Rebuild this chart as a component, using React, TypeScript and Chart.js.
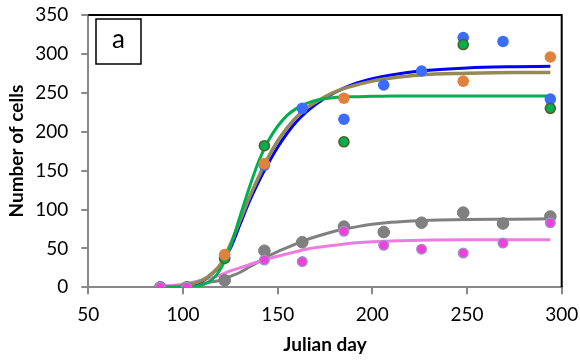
import { useEffect, useRef } from "react";
import { Chart, registerables } from "chart.js";
Chart.register(...registerables);

// Sampling days (Julian day)
const days = [88, 102, 122, 143, 163, 185, 206, 226, 248, 269, 294];
// Observed cell counts (null = not measured)
const blueObs = [0, 0, 38, 157, 230, 216, 260, 278, 321, 316, 242];
const orangeObs = [0, 0, 42, 159, null, 243, null, null, 265, null, 296];
const greenObs = [0, 0, 37, 182, null, 187, null, null, 312, null, 230];
const grayObs = [0, 0, 9, 47, 58, 78, 71, 83, 96, 82, 91];
const pinkObs = [0, 0, null, 35, 33, 72, 54, 49, 44, 57, 83];

// Fitted curves
const curveDays = [88, 100, 110, 115, 120, 125, 130, 135, 140, 145, 150, 155, 160, 165, 170, 180, 190, 200, 210, 225, 250, 275, 294];
const blueFit = [0, 1, 8, 17, 29, 50, 80, 110, 136, 159, 180, 198, 213, 225, 235, 250, 261, 268, 273, 278, 282, 283.5, 284];
const brownFit = [0, 2, 9, 17, 30, 55, 85, 115, 142, 167, 188, 205, 219, 230, 238, 251, 259, 265, 269, 273, 275, 276, 276];
const greenFit = [0, 0.5, 3, 9, 24, 52, 90, 128, 162, 188, 207, 221, 230, 236, 240, 244, 245, 245.5, 246, 246, 246, 246, 246];
const grayFit = [0, 2, 5, 7, 9, 14, 19, 26, 33, 40, 46, 51, 56, 61, 65, 72, 77, 81, 83.5, 85.5, 87, 87.5, 88];
const pinkFit = [1, 4, 9, 12, 16, 21, 25, 29, 33, 37, 40, 43, 46, 49, 51, 54, 57, 58.5, 59.5, 60.5, 61, 61, 61];

const xTicks = [50, 100, 150, 200, 250, 300];
const yTicks = [0, 50, 100, 150, 200, 250, 300, 350];
const panelLabel = "a";

const pts = (xs: number[], ys: (number | null)[]) =>
  xs.map((x, i) => ({ x, y: ys[i] })).filter((p) => p.y !== null) as { x: number; y: number }[];

const FONT = 'Lato, "Open Sans", sans-serif';

export default function App() {
  const ref = useRef<HTMLCanvasElement>(null);
  useEffect(() => {
    document.body.style.margin = "0";
    const framePlugin = {
      id: "frame",
      beforeDatasetsDraw(chart: any) {
        const { ctx, chartArea } = chart;
        const { left, right, top, bottom } = chartArea;
        ctx.save();
        ctx.strokeStyle = "#000";
        ctx.lineWidth = 2;
        ctx.beginPath();
        ctx.moveTo(left, top);
        ctx.lineTo(right, top);
        ctx.lineTo(right, bottom);
        ctx.stroke();
        // panel label box
        ctx.lineWidth = 1.5;
        ctx.fillStyle = "#fff";
        ctx.fillRect(96, 19, 45, 45);
        ctx.strokeRect(96, 19, 45, 45);
        ctx.fillStyle = "#000";
        ctx.font = `26px ${FONT}`;
        ctx.textAlign = "center";
        ctx.textBaseline = "middle";
        ctx.fillText(panelLabel, 118.5, 40);
        ctx.restore();
      },
    };

    const line = (data: number[], color: string, width: number, order: number) => ({
      type: "scatter" as const,
      data: pts(curveDays, data),
      showLine: true,
      borderColor: color,
      backgroundColor: color,
      borderWidth: width,
      pointRadius: 0,
      cubicInterpolationMode: "monotone" as const,
      order,
    });
    const dots = (data: (number | null)[], fill: string, border: string, r: number, bw: number, order: number) => ({
      type: "scatter" as const,
      data: pts(days, data),
      showLine: false,
      backgroundColor: fill,
      borderColor: border,
      borderWidth: bw,
      pointRadius: r,
      order,
    });

    const chart = new Chart(ref.current as HTMLCanvasElement, {
      type: "scatter",
      data: {
        datasets: [
          dots(pinkObs, "#F03FDC", "#9C93C4", 4.8, 1.5, 1),
          dots(grayObs, "#808080", "#7A7A7A", 5.8, 1, 2),
          dots(orangeObs, "#E0823D", "#E0823D", 5.8, 0, 3),
          dots(greenObs, "#00B050", "#4F6228", 5, 1.6, 4),
          dots(blueObs, "#3B6CFF", "#3B6CFF", 5.8, 0, 5),
          line(greenFit, "#00B050", 3, 10),
          line(brownFit, "#948A54", 3.5, 11),
          line(blueFit, "#0000FF", 3, 12),
          line(pinkFit, "#F07ADF", 3, 13),
          line(grayFit, "#808080", 3, 14),
        ],
      },
      options: {
        animation: false,
        responsive: false,
        events: [],
        layout: { padding: { left: 0, top: 15, right: 18.3, bottom: 0 } },
        plugins: { legend: { display: false }, tooltip: { enabled: false } },
        scales: {
          x: {
            type: "linear",
            min: 50,
            max: 300,
            afterFit: (s: any) => { s.height = 72.7; s.paddingLeft = 0; s.paddingRight = 0; },
            afterBuildTicks: (s: any) => { s.ticks = xTicks.map((v) => ({ value: v })); },
            ticks: { color: "#000", font: { family: FONT, size: 19 }, padding: 9 },
            grid: { drawOnChartArea: false, drawTicks: true, tickLength: 7, color: "#888", lineWidth: 2 },
            border: { color: "#888", width: 2 },
            title: { display: true, text: "Julian day", color: "#000", font: { family: FONT, size: 19, weight: "bold" }, padding: { top: 4, bottom: 4 } },
          },
          y: {
            type: "linear",
            min: 0,
            max: 350,
            afterFit: (s: any) => { s.width = 88.3; s.paddingTop = 0; s.paddingBottom = 0; },
            afterBuildTicks: (s: any) => { s.ticks = yTicks.map((v) => ({ value: v })); },
            ticks: { color: "#000", font: { family: FONT, size: 19 }, padding: 13 },
            grid: { drawOnChartArea: false, drawTicks: true, tickLength: 7, color: "#888", lineWidth: 2 },
            border: { color: "#888", width: 2 },
            title: { display: true, text: "Number of cells", color: "#000", font: { family: FONT, size: 19, weight: "bold" }, padding: { top: 5.6, bottom: 5.6 } },
          },
        },
      },
      plugins: [framePlugin],
    } as any);
    return () => chart.destroy();
  }, []);
  return (
    <div style={{ width: 580, height: 360 }}>
      <canvas ref={ref} width={580} height={360} style={{ display: "block" }} />
    </div>
  );
}
